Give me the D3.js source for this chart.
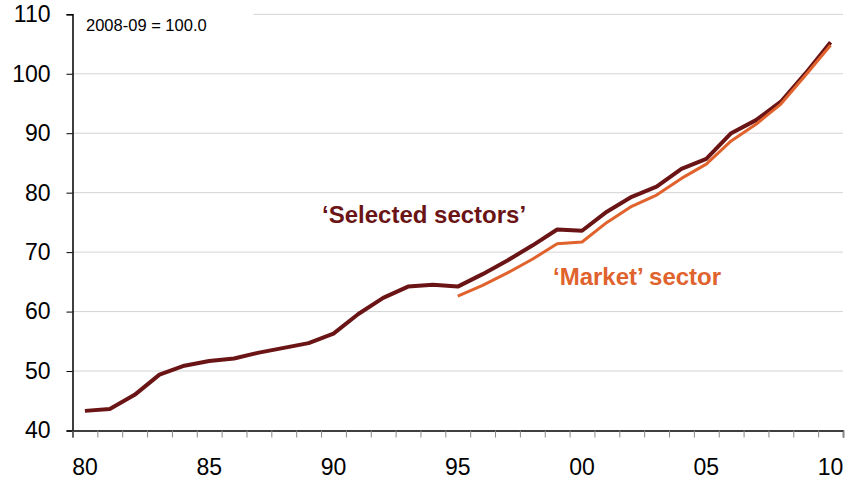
<!DOCTYPE html>
<html>
<head>
<meta charset="utf-8">
<script src="https://cdn.jsdelivr.net/npm/d3@7"></script>
<style>
	body { margin: 0; background: #fff; }
	text { font-family: Arial, "Liberation Sans", sans-serif; }
</style>
</head>
<body>
<div id="graph"></div>
<script>
const years = ["80","81","82","83","84","85","86","87","88","89","90","91","92","93","94","95",
	"96","97","98","99","00","01","02","03","04","05","06","07","08","09","10"];
const tickLabels = ["80","85","90","95","00","05","10"];
const yTicks = [40, 50, 60, 70, 80, 90, 100, 110];

// index, 2008-09 = 100
const selected = [43.3, 43.6, 46.0, 49.4, 50.9, 51.7, 52.1, 53.1, 53.9, 54.7, 56.3, 59.6, 62.3, 64.2, 64.5, 64.2,
	66.3, 68.6, 71.1, 73.8, 73.6, 76.8, 79.3, 81.0, 84.0, 85.7, 90.0, 92.2, 95.3, 100.1, 105.3];
const market = [null, null, null, null, null, null, null, null, null, null, null, null, null, null, null, 62.6,
	64.4, 66.5, 68.8, 71.4, 71.7, 75.0, 77.7, 79.6, 82.4, 84.8, 88.7, 91.5, 94.9, 99.8, 104.8];

const width = 845, height = 480;
const margin = {top: 14.3, right: 2, bottom: 49.5, left: 72.5};

const svg = d3.select("#graph")
	.append("svg")
	.attr("width", width)
	.attr("height", height);

const xScale = d3.scaleBand()
	.domain(years)
	.range([margin.left, width - margin.right])
	.padding(0);

const yScale = d3.scaleLinear()
	.domain([40, 110])
	.range([height - margin.bottom, margin.top]);

// gridlines
svg.append("g")
	.selectAll("line")
	.data(yTicks.filter(d => d > 40))
	.enter().append("line")
	.attr("x1", margin.left)
	.attr("x2", width - margin.right)
	.attr("y1", d => yScale(d))
	.attr("y2", d => yScale(d))
	.attr("stroke", "#d4d4d4")
	.attr("stroke-width", 1);

// base note box hides part of top gridline
svg.append("rect")
	.attr("x", margin.left + 1)
	.attr("y", 4)
	.attr("width", 180)
	.attr("height", 30)
	.attr("fill", "#fff");

svg.append("text")
	.attr("x", 86)
	.attr("y", 31)
	.attr("font-size", 16.5)
	.attr("fill", "#000")
	.text("2008-09 = 100.0");

// y axis
const yAxis = d3.axisLeft(yScale)
	.tickValues(yTicks)
	.tickSize(6)
	.tickPadding(16);

svg.append("g")
	.attr("id", "y-axis")
	.attr("transform", "translate(" + margin.left + ",0)")
	.call(yAxis)
	.call(g => g.select(".domain").attr("stroke", "#000").attr("stroke-width", 1.5))
	.call(g => g.selectAll("text").attr("font-size", 23).attr("fill", "#000")
		.attr("font-family", "Arial, 'Liberation Sans', sans-serif"));

// x axis: tick marks at band edges, labels at band centres
const xEdges = d3.scaleLinear()
	.domain([0, years.length])
	.range([margin.left, width - margin.right]);

svg.append("g")
	.attr("transform", "translate(0," + (height - margin.bottom) + ")")
	.call(d3.axisBottom(xEdges).tickValues(d3.range(years.length + 1)).tickSize(7).tickFormat(""))
	.call(g => g.select(".domain").attr("stroke", "#000").attr("stroke-width", 1.5))
	.call(g => g.selectAll(".tick line").attr("stroke", "#888"));

const xAxis = d3.axisBottom(xScale)
	.tickValues(tickLabels)
	.tickSize(0)
	.tickPadding(28);

svg.append("g")
	.attr("id", "x-axis")
	.attr("transform", "translate(0," + (height - margin.bottom) + ")")
	.call(xAxis)
	.call(g => g.select(".domain").remove())
	.call(g => g.selectAll("text").attr("font-size", 23).attr("fill", "#000")
		.attr("font-family", "Arial, 'Liberation Sans', sans-serif"));

const xc = (d, i) => xScale(years[i]) + xScale.bandwidth() / 2;

const line = d3.line()
	.defined(d => d != null)
	.x(xc)
	.y(d => yScale(d));

svg.append("path")
	.datum(selected)
	.attr("fill", "none")
	.attr("stroke", "#6b1416")
	.attr("stroke-width", 4)
	.attr("stroke-linejoin", "round")
	.attr("d", line);

svg.append("path")
	.datum(market)
	.attr("fill", "none")
	.attr("stroke", "#e0622c")
	.attr("stroke-width", 3)
	.attr("stroke-linejoin", "round")
	.attr("d", line);

// series labels
svg.append("text")
	.attr("x", 322)
	.attr("y", 223)
	.attr("font-size", 24)
	.attr("font-weight", "bold")
	.attr("fill", "#6b1416")
	.text("\u2018Selected sectors\u2019");

svg.append("text")
	.attr("x", 553)
	.attr("y", 285)
	.attr("font-size", 24)
	.attr("font-weight", "bold")
	.attr("fill", "#e0622c")
	.text("\u2018Market\u2019 sector");
</script>
</body>
</html>
